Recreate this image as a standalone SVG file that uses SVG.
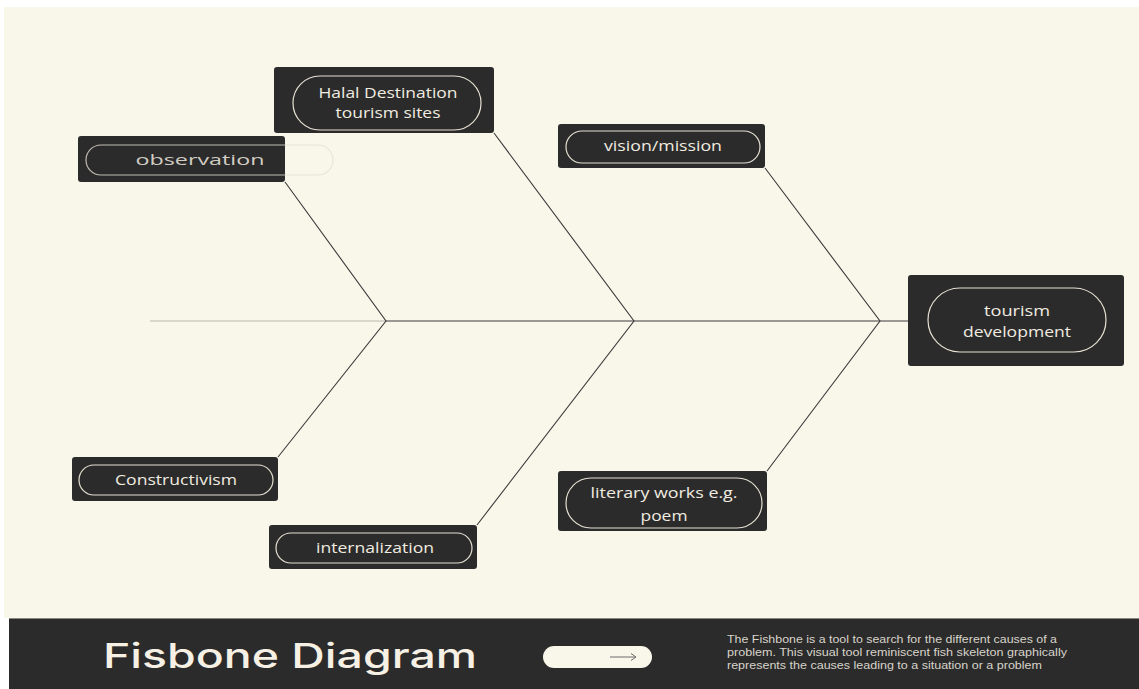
<svg xmlns="http://www.w3.org/2000/svg" width="1139" height="689" viewBox="0 0 1139 689">
<style>
.box{fill:#2b2b2b;}
.pill{fill:none;stroke:#e6e0d2;stroke-width:1.2;}
.lbl{fill:#f1ece0;font-family:"Open Sans","Liberation Sans",sans-serif;font-size:14px;text-anchor:middle;}
.bone{stroke:#3a3a3a;stroke-width:1.1;fill:none;}
</style>
<rect x="0" y="0" width="1139" height="689" fill="#ffffff"/>
<rect x="4" y="7" width="1135" height="611" fill="#f9f7ea"/>
<g id="connectors">
<line x1="150" y1="321" x2="386" y2="321" stroke="#b9b8ae" stroke-width="1.2"/>
<line x1="386" y1="321" x2="908" y2="321" class="bone"/>
<polyline points="285,182 386,321 278,457" class="bone"/>
<polyline points="494,133 634,321 477,525" class="bone"/>
<polyline points="765,168 880,321 767,471" class="bone"/>
</g>
<g id="observation">
<rect class="box" x="78" y="136" width="207" height="46" rx="3"/>
<rect class="pill" x="86" y="145" width="247" height="30" rx="15" stroke-opacity="0.8"/>
<text class="lbl" x="200" y="165" textLength="129" lengthAdjust="spacingAndGlyphs" fill-opacity="0.85">observation</text>
</g>
<g id="halal">
<rect class="box" x="274" y="67" width="220" height="66" rx="3"/>
<rect class="pill" x="293" y="76" width="188" height="54" rx="27"/>
<text class="lbl" x="388" y="98" textLength="139" lengthAdjust="spacingAndGlyphs">Halal Destination</text>
<text class="lbl" x="388" y="118" textLength="105" lengthAdjust="spacingAndGlyphs">tourism sites</text>
</g>
<g id="vision">
<rect class="box" x="558" y="124" width="207" height="44" rx="3"/>
<rect class="pill" x="566" y="131" width="194" height="32" rx="16"/>
<text class="lbl" x="663" y="151" textLength="118" lengthAdjust="spacingAndGlyphs">vision/mission</text>
</g>
<g id="tourism">
<rect class="box" x="908" y="275" width="216" height="91" rx="3"/>
<rect class="pill" x="928" y="288" width="178" height="64" rx="32"/>
<text class="lbl" x="1017" y="316" textLength="66" lengthAdjust="spacingAndGlyphs">tourism</text>
<text class="lbl" x="1017" y="337" textLength="108" lengthAdjust="spacingAndGlyphs">development</text>
</g>
<g id="constructivism">
<rect class="box" x="72" y="457" width="206" height="44" rx="3"/>
<rect class="pill" x="79" y="465" width="194" height="30" rx="15"/>
<text class="lbl" x="176" y="485" textLength="122" lengthAdjust="spacingAndGlyphs">Constructivism</text>
</g>
<g id="internalization">
<rect class="box" x="269" y="525" width="208" height="44" rx="3"/>
<rect class="pill" x="276" y="533" width="196" height="30" rx="15"/>
<text class="lbl" x="375" y="553" textLength="118" lengthAdjust="spacingAndGlyphs">internalization</text>
</g>
<g id="literary">
<rect class="box" x="558" y="471" width="209" height="60" rx="3"/>
<rect class="pill" x="566" y="478" width="196" height="50" rx="25"/>
<text class="lbl" x="664" y="498" textLength="147" lengthAdjust="spacingAndGlyphs">literary works e.g.</text>
<text class="lbl" x="664" y="521" textLength="47" lengthAdjust="spacingAndGlyphs">poem</text>
</g>
<g id="footer">
<rect x="9" y="618" width="1130" height="71" fill="#2b2b2b"/>
<line x1="9" y1="618.5" x2="1139" y2="618.5" stroke="#8a877d" stroke-width="1"/>
<text x="103" y="668" fill="#f6f1e4" font-family="Inter,'Liberation Sans',sans-serif" font-size="34" font-weight="500" textLength="374" lengthAdjust="spacingAndGlyphs">Fisbone Diagram</text>
<rect x="543" y="646" width="109" height="22" rx="11" fill="#f9f7ea"/>
<line x1="610" y1="657" x2="636" y2="657" stroke="#6b6b6b" stroke-width="1"/>
<polyline points="631,653.5 636,657 631,660.5" fill="none" stroke="#6b6b6b" stroke-width="1"/>
<g fill="#d8d4ca" font-family="'Liberation Sans',sans-serif" font-size="10.5">
<text x="727" y="643" textLength="330" lengthAdjust="spacingAndGlyphs">The Fishbone is a tool to search for the different causes of a</text>
<text x="727" y="656" textLength="340" lengthAdjust="spacingAndGlyphs">problem. This visual tool reminiscent fish skeleton graphically</text>
<text x="727" y="669" textLength="315" lengthAdjust="spacingAndGlyphs">represents the causes leading to a situation or a problem</text>
</g>
</g>
</svg>
